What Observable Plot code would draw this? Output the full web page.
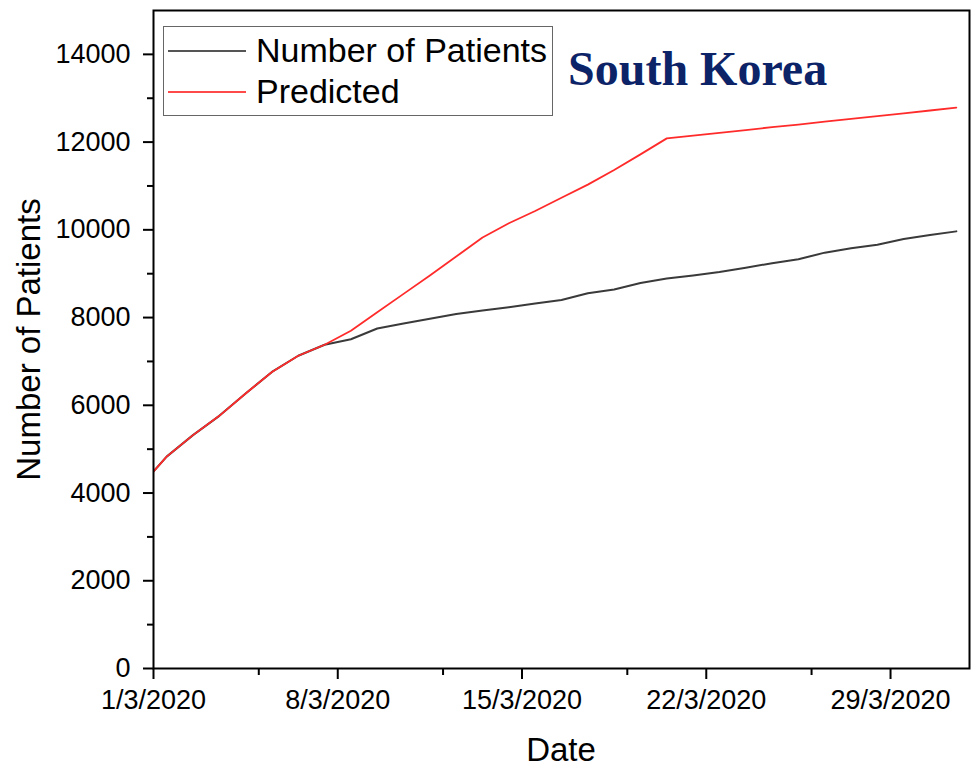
<!DOCTYPE html>
<html>
<head>
<meta charset="utf-8">
<script src="https://cdn.jsdelivr.net/npm/d3@7"></script>
<script src="https://cdn.jsdelivr.net/npm/@observablehq/plot@0.6"></script>
<style>
  body { margin: 0; background: #fff; }
  #wrap { position: relative; width: 973px; height: 769px; overflow: hidden; font-family: "Liberation Sans", Arial, sans-serif; }
  #wrap svg { position: absolute; left: 0; top: 0; }
  .legend { position: absolute; left: 163px; top: 26px; width: 390px; height: 90px; border: 1px solid #666; box-sizing: border-box; background: #fff; }
  .sw { position: absolute; left: 4px; width: 78px; height: 2px; }
  .lt { position: absolute; left: 92px; font-size: 34px; line-height: 34px; white-space: nowrap; color: #000; }
  .title { position: absolute; left: 568px; top: 45px; font-family: "Liberation Serif", "Times New Roman", serif; font-weight: bold; font-size: 48px; line-height: 48px; color: #0c2368; white-space: nowrap; }
  .xtitle { position: absolute; left: 361px; width: 400px; top: 733px; text-align: center; font-size: 33px; line-height: 33px; }
  .ytitle { position: absolute; left: -172px; width: 400px; top: 322.5px; text-align: center; font-size: 33px; line-height: 33px; transform: rotate(-90deg); white-space: nowrap; }
</style>
</head>
<body>
<div id="wrap"></div>
<script>
// Dates of the plotted points (positioned at midday)
const dates = [
  "2020-02-29","2020-03-01","2020-03-02","2020-03-03","2020-03-04","2020-03-05","2020-03-06","2020-03-07",
  "2020-03-08","2020-03-09","2020-03-10","2020-03-11","2020-03-12","2020-03-13","2020-03-14","2020-03-15",
  "2020-03-16","2020-03-17","2020-03-18","2020-03-19","2020-03-20","2020-03-21","2020-03-22","2020-03-23",
  "2020-03-24","2020-03-25","2020-03-26","2020-03-27","2020-03-28","2020-03-29","2020-03-30","2020-03-31"
];
const patients = [
  4150,4830,5320,5760,6270,6760,7130,7380,
  7505,7750,7865,7975,8080,8160,8235,8320,
  8400,8555,8640,8790,8890,8960,9040,9135,
  9240,9330,9480,9580,9660,9790,9880,9965
];
const predicted = [
  4150,4830,5320,5760,6270,6760,7130,7380,
  7700,8120,8540,8960,9390,9825,10150,10430,
  10730,11030,11365,11720,12085,12150,12210,12275,
  12340,12400,12465,12530,12590,12655,12720,12785
];
const seriesNames = ["Number of Patients", "Predicted"];
const seriesColors = ["#3a3a3a", "#ff2b2b"];
const xTickDates = ["2020-03-01","2020-03-08","2020-03-15","2020-03-22","2020-03-29"];
const xTickLabels = ["1/3/2020","8/3/2020","15/3/2020","22/3/2020","29/3/2020"];
const xMinorDates = ["2020-03-05","2020-03-12","2020-03-19","2020-03-26"];
const yTicks = [0,2000,4000,6000,8000,10000,12000,14000];
const yMinor = [1000,3000,5000,7000,9000,11000,13000];
const xDomain = ["2020-03-01","2020-04-01"];
const yDomain = [0, 15000];

const toDate = s => new Date(s + "T00:00:00Z");
const toMid = s => new Date(s + "T12:00:00Z");

const rows = [];
dates.forEach((d, i) => {
  rows.push({date: toMid(d), value: patients[i], series: seriesNames[0]});
  rows.push({date: toMid(d), value: predicted[i], series: seriesNames[1]});
});
const labelMap = new Map(xTickDates.map((d, i) => [+toDate(d), xTickLabels[i]]));

const chart = Plot.plot({
  width: 973,
  height: 769,
  marginLeft: 153,
  marginRight: 4,
  marginTop: 10,
  marginBottom: 101,
  style: {fontFamily: "'Liberation Sans', Arial, sans-serif", background: "transparent", overflow: "visible"},
  x: {type: "utc", domain: xDomain.map(toDate)},
  y: {domain: yDomain},
  color: {domain: seriesNames, range: seriesColors},
  marks: [
    Plot.axisY({ticks: yTicks, tickSize: 10, tickPadding: 13, fontSize: 27, strokeWidth: 2, label: null, tickFormat: d => String(d), color: "#000"}),
    Plot.axisY({ticks: yMinor, tickSize: 6, strokeWidth: 2, text: null, label: null}),
    Plot.axisX({ticks: xTickDates.map(toDate), tickSize: 11, tickPadding: 10, fontSize: 27, strokeWidth: 2, label: null, tickFormat: d => labelMap.get(+d), color: "#000"}),
    Plot.axisX({ticks: xMinorDates.map(toDate), tickSize: 7, strokeWidth: 2, text: null, label: null}),
    Plot.line(rows.filter(r => r.series === seriesNames[0]), {x: "date", y: "value", stroke: "series", strokeWidth: 2, clip: true}),
    Plot.line(rows.filter(r => r.series === seriesNames[1]), {x: "date", y: "value", stroke: "series", strokeWidth: 1.8, clip: true}),
    Plot.frame({stroke: "#000", strokeWidth: 2})
  ]
});

const wrap = document.getElementById("wrap");
wrap.appendChild(chart);

const legend = document.createElement("div");
legend.className = "legend";
seriesNames.forEach((name, i) => {
  const sw = document.createElement("div");
  sw.className = "sw";
  sw.style.top = (i === 0 ? 23 : 64) + "px";
  sw.style.background = i === 0 ? "#555" : "#ff4a4a";
  legend.appendChild(sw);
  const t = document.createElement("div");
  t.className = "lt";
  t.style.top = (i === 0 ? 6 : 47) + "px";
  t.textContent = name;
  legend.appendChild(t);
});
wrap.appendChild(legend);

const title = document.createElement("div");
title.className = "title";
title.textContent = "South Korea";
wrap.appendChild(title);

const xt = document.createElement("div");
xt.className = "xtitle";
xt.textContent = "Date";
wrap.appendChild(xt);

const yt = document.createElement("div");
yt.className = "ytitle";
yt.textContent = "Number of Patients";
wrap.appendChild(yt);
</script>
</body>
</html>
